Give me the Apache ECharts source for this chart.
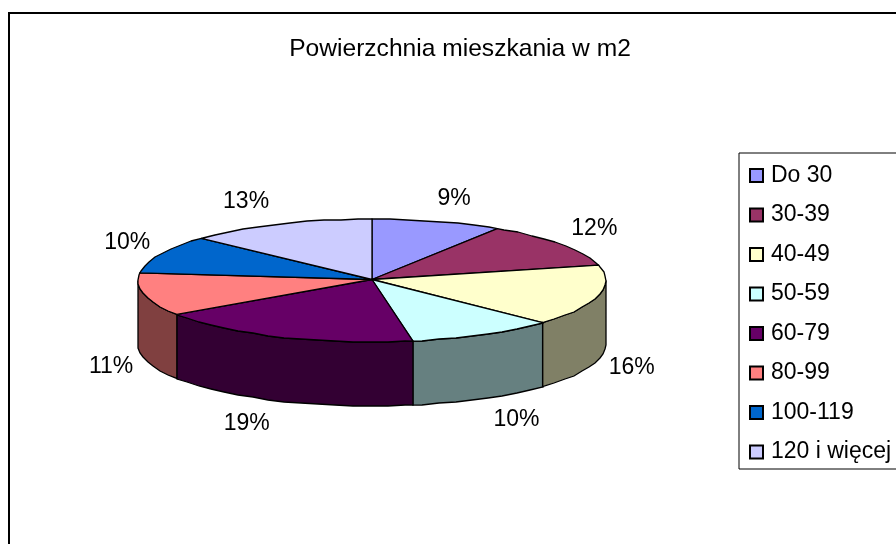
<!DOCTYPE html>
<html><head><meta charset="utf-8">
<style>html,body{margin:0;padding:0;background:#fff}#c{width:896px;height:544px}</style>
<script src="https://cdn.jsdelivr.net/npm/echarts@6/dist/echarts.min.js"></script>
</head><body><div id="c"></div>
<script>
const categories = ['Do 30','30-39','40-49','50-59','60-79','80-99','100-119','120 i więcej'];
const shares = [9.0,12.0,16.0,10.2,18.5,11.3,10.0,13.0];
const topColors = ['#9999FF','#993366','#FFFFCC','#CCFFFF','#660066','#FF8080','#0066CC','#CCCCFF'];
const wallColors = ['#4D4D80','#4D1A33','#808066','#668080','#330033','#804040','#003366','#666680'];

const chart = echarts.init(document.getElementById('c'), null, {renderer:'canvas'});
const total = shares.reduce((a,b)=>a+b,0);
const CX=372, CY=280.5, RX=234, RY=61.5, DEPTH=64;
const FONT='23px "Liberation Sans", Arial, sans-serif';
const STEP=0.075;
const toA = s => s/total*Math.PI*2;
const pt = (a,dy=0)=>[CX+RX*Math.sin(a), CY-RY*Math.cos(a)+dy];
function arc(a0,a1,dy=0){
  const out=[pt(a0,dy)];
  for(let k=Math.floor(a0/STEP)+1;k*STEP<a1;k++){
    const p=pt(k*STEP,dy); out.push([Math.round(p[0]),Math.round(p[1])]);
  }
  out.push(pt(a1,dy));
  return out;
}
let cum=0;
const ranges = shares.map(v=>{const r=[cum,cum+v];cum+=v;return r;});

function makeRender(idx){
  return function(){
    const a0=toA(ranges[idx][0]), a1=toA(ranges[idx][1]);
    const children=[];
    const w0=Math.max(a0,Math.PI/2), w1=Math.min(a1,Math.PI*1.5);
    if(w1>w0){
      const t=arc(w0,w1), b=arc(w0,w1,DEPTH).reverse();
      children.push({type:'polygon',shape:{points:t.concat(b)},
        style:{fill:wallColors[idx],stroke:'#000',lineWidth:1.3}});
    }
    children.push({type:'polygon',shape:{points:[[CX,CY-1]].concat(arc(a0,a1))},
      style:{fill:topColors[idx],stroke:'#000',lineWidth:1.3,lineJoin:'round'}});
    const m=(a0+a1)/2, s=Math.sin(m), c=Math.cos(m), front=c<0;
    const dx=Math.sign(s)*33*Math.min(1,Math.pow(Math.abs(s)/0.39,2));
    const dy=(front?1:-1)*(3+21*Math.abs(c));
    const p=pt(m,front?DEPTH:0);
    children.push({type:'text',style:{text:Math.round(shares[idx]/total*100)+'%',
      x:p[0]+dx,y:p[1]+dy,fill:'#000',font:FONT,align:'center',verticalAlign:'middle'}});
    return {type:'group',children};
  };
}

chart.setOption({
  animation:false,
  backgroundColor:'#fff',
  title:{text:'Powierzchnia mieszkania w m2',left:455,top:32,textAlign:'center',
    textStyle:{fontFamily:'"Liberation Sans", Arial, sans-serif',fontSize:24.6,fontWeight:'normal',color:'#000'}},
  legend:{orient:'vertical',left:739,top:153,data:categories,selectedMode:false,icon:'rect',
    itemWidth:13,itemHeight:13,itemGap:14.5,padding:[10,20,4.5,10],
    backgroundColor:'#fff',borderColor:'#000',borderWidth:1,
    textStyle:{fontFamily:'"Liberation Sans", Arial, sans-serif',fontSize:23,color:'#000',lineHeight:21,padding:[0,0,4,3]}},
  graphic:[{type:'rect',z:-10,silent:true,shape:{x:9,y:13,width:1000,height:1000},
    style:{fill:'none',stroke:'#000',lineWidth:2}}],
  series:categories.map((name,i)=>({
    type:'custom',name,coordinateSystem:'none',silent:true,
    itemStyle:{color:topColors[i],borderColor:'#000',borderWidth:1},
    data:[[shares[i]]],renderItem:makeRender(i)
  }))
});
</script></body></html>
